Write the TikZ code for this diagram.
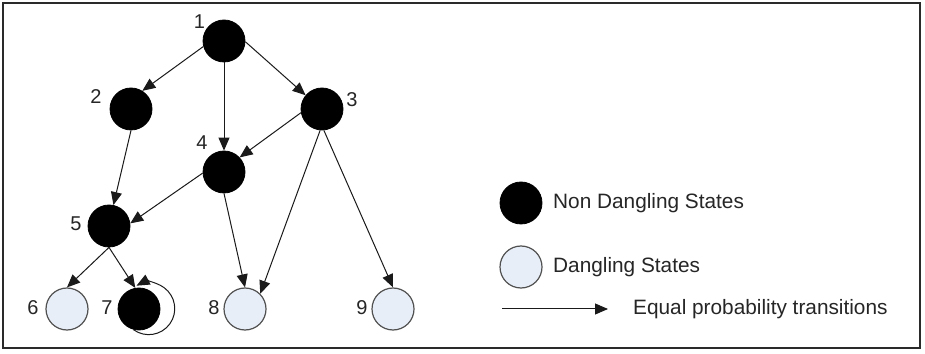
\documentclass[tikz,border=0pt]{standalone}
\usepackage{fontspec}
\setmainfont{Liberation Sans}
\usetikzlibrary{arrows.meta}
\definecolor{lightnode}{HTML}{E8EEF8}
\definecolor{framegray}{HTML}{2A2A2A}
\definecolor{edgegray}{HTML}{1A1A1A}
\definecolor{ringgray}{HTML}{505050}
\tikzset{
  blacknode/.style={circle, fill=black, draw=black, line width=0.8pt, minimum size=42pt, inner sep=0pt},
  lightstate/.style={circle, fill=lightnode, draw=ringgray, line width=1.2pt, minimum size=42pt, inner sep=0pt},
  numlabel/.style={font=\fontsize{20}{22}\selectfont, inner sep=0pt, text=black!85},
  legtext/.style={font=\fontsize{20.8}{24}\selectfont, anchor=west, inner sep=0pt, text=black!85},
  arr/.style={draw=edgegray, line width=1pt, -{Triangle[length=13pt,width=11pt]}}
}
\begin{document}
\begin{tikzpicture}[x=1pt,y=1pt]
\useasboundingbox (0,0) rectangle (925,353);
\fill[white] (0,0) rectangle (925,353);
\draw[framegray, line width=2pt] (3,5) rectangle (920,350);

% nodes
\node[blacknode] (n1) at (224,312) {};
\node[blacknode] (n2) at (131,244) {};
\node[blacknode] (n3) at (322,244) {};
\node[blacknode] (n4) at (224,181) {};
\node[blacknode] (n5) at (109,127) {};
\node[lightstate] (n6) at (67,44) {};
\node[blacknode] (n7) at (139,44) {};
\node[lightstate] (n8) at (245,44) {};
\node[lightstate] (n9) at (393,44) {};

% labels
\node[numlabel] (t1) at (199.5,331) {1};
\node[numlabel] (t2) at (96,256) {2};
\node[numlabel] (t3) at (352,253) {3};
\node[numlabel] (t4) at (202,210) {4};
\node[numlabel] (t5) at (76,129) {5};
\node[numlabel] (t6) at (33,45) {6};
\node[numlabel] (t7) at (107,45) {7};
\node[numlabel] (t8) at (214,45) {8};
\node[numlabel] (t9) at (362,45) {9};

% edges
\draw[arr] (n1.195) -- (n2.58);
\draw[arr] (n1.south) -- (n4.north);
\draw[arr] (n1.358) -- (n3.140);
\draw[arr] (n2.south) -- (n5.78);
\draw[arr] (n3.190) -- (n4.43);
\draw[arr] (n4.183) -- (n5.7);
\draw[arr] (n4.south) -- (n8.north);
\draw[arr] (n3.265) -- (n8.45);
\draw[arr] (n3.275) -- (n9.north);
\draw[arr] (n5.south) -- (n6.north);
\draw[arr] (n5.south) -- (n7.100);
\draw[arr] (n7.255) arc[start angle=234, end angle=478, radius=26pt];

% legend
\node[blacknode] (lg1) at (521,150) {};
\node[lightstate] (lg2) at (521,86) {};
\node[legtext] (lt1) at (553,150) {Non Dangling States};
\node[legtext] (lt2) at (553,86) {Dangling States};
\coordinate (la) at (502,44);
\coordinate (lb) at (608,44);
\draw[arr] (la) -- (lb);
\node[legtext] (lt3) at (633,44) {Equal probability transitions};
\end{tikzpicture}
\end{document}
